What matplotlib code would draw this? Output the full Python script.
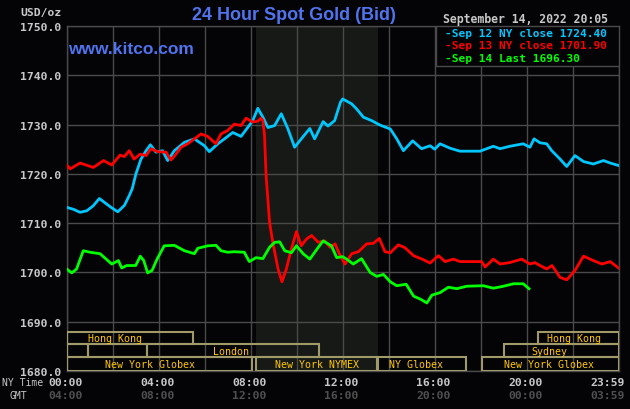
import matplotlib.pyplot as plt
from matplotlib.patches import Rectangle
import matplotlib.transforms as mtransforms

# ---- data (hours since 00:00 NY time, USD/oz) ----
sep12_hours = [0, 0.3, 0.58, 0.87, 1.15, 1.42, 1.7, 1.93, 2.22, 2.51, 2.72, 2.85, 3.01, 3.23,
               3.45, 3.64, 3.88, 4.17, 4.39, 4.68, 5.12, 5.55, 5.99, 6.2, 6.57, 6.86, 7.22,
               7.58, 7.87, 8.09, 8.31, 8.53, 8.75, 9.04, 9.33, 9.62, 9.91, 10.2, 10.57, 10.78,
               11.15, 11.36, 11.65, 11.9, 12.0, 12.39, 12.6, 12.9, 13.26, 13.62, 14.07, 14.35,
               14.64, 15.04, 15.43, 15.8, 16.0, 16.23, 16.67, 17.1, 17.97, 18.55, 18.84, 19.27,
               19.85, 20.14, 20.32, 20.58, 20.87, 21.09, 21.45, 21.74, 22.1, 22.47, 22.9, 23.34,
               23.63, 23.99]
sep12_price = [1713.2, 1712.8, 1712.2, 1712.5, 1713.5, 1715.0, 1714.0, 1713.2, 1712.3, 1713.6,
               1715.6, 1717.0, 1720.0, 1723.0, 1724.7, 1725.9, 1724.4, 1724.7, 1722.7, 1724.7,
               1726.4, 1727.1, 1725.7, 1724.5, 1726.1, 1727.1, 1728.4, 1727.6, 1729.4, 1730.8,
               1733.3, 1731.5, 1729.4, 1729.8, 1732.2, 1729.1, 1725.4, 1727.1, 1729.2, 1727.1,
               1730.6, 1729.7, 1730.8, 1734.5, 1735.2, 1734.2, 1733.2, 1731.5, 1730.8, 1729.9,
               1729.1, 1727.1, 1724.7, 1726.7, 1725.1, 1725.7, 1725.0, 1726.1, 1725.2, 1724.6,
               1724.6, 1725.6, 1725.1, 1725.6, 1726.1, 1725.4, 1727.1, 1726.3, 1726.1, 1724.7,
               1723.0, 1721.5, 1723.7, 1722.5, 1722.0, 1722.7, 1722.2, 1721.7]

sep13_hours = [0, 0.15, 0.58, 1.16, 1.6, 1.96, 2.32, 2.51, 2.72, 2.93, 3.2, 3.45, 3.66, 3.95,
               4.32, 4.53, 4.75, 4.97, 5.26, 5.55, 5.84, 6.13, 6.49, 6.71, 7.0, 7.29, 7.58, 7.8,
               8.09, 8.31, 8.45, 8.53, 8.6, 8.67, 8.82, 8.96, 9.19, 9.36, 9.55, 9.77, 9.99,
               10.2, 10.43, 10.65, 10.94, 11.22, 11.45, 11.67, 11.85, 12.1, 12.39, 12.68, 13.04,
               13.33, 13.59, 13.84, 14.07, 14.42, 14.71, 15.08, 15.5, 15.8, 16.16, 16.45, 16.81,
               17.1, 18.04, 18.19, 18.55, 18.84, 19.27, 19.78, 20.14, 20.35, 20.58, 20.87, 21.1,
               21.45, 21.74, 22.1, 22.47, 22.9, 23.27, 23.63, 23.99]
sep13_price = [1721.8, 1721.0, 1722.2, 1721.3, 1722.7, 1721.8, 1723.8, 1723.5, 1724.7, 1723.0,
               1724.0, 1723.7, 1725.1, 1724.5, 1724.4, 1722.8, 1724.0, 1725.4, 1726.1, 1727.1,
               1728.1, 1727.6, 1726.1, 1728.1, 1728.8, 1730.1, 1729.8, 1731.3, 1730.5, 1730.7,
               1731.3, 1730.8, 1727.8, 1719.6, 1710.2, 1706.1, 1700.7, 1698.1, 1700.7, 1704.8,
               1708.3, 1705.4, 1706.8, 1707.5, 1706.1, 1706.4, 1705.1, 1705.8, 1703.8, 1701.7,
               1703.8, 1704.2, 1705.8, 1705.9, 1706.9, 1704.2, 1704.0, 1705.6, 1705.0, 1703.4,
               1702.6, 1701.9, 1703.4, 1702.2, 1702.7, 1702.2, 1702.2, 1701.1, 1702.7, 1701.7,
               1702.0, 1702.7, 1701.7, 1702.0, 1701.4, 1700.7, 1701.4, 1699.0, 1698.5, 1700.4,
               1703.3, 1702.4, 1701.7, 1702.2, 1700.9]

sep14_hours = [0, 0.22, 0.43, 0.72, 1.01, 1.45, 1.96, 2.25, 2.39, 2.61, 3.0, 3.2, 3.35, 3.52,
               3.71, 3.93, 4.24, 4.68, 5.12, 5.55, 5.7, 6.13, 6.49, 6.71, 7.0, 7.29, 7.72, 7.94,
               8.23, 8.53, 8.82, 9.04, 9.26, 9.48, 9.77, 9.99, 10.28, 10.57, 10.94, 11.15, 11.51,
               11.74, 12.0, 12.17, 12.46, 12.82, 13.19, 13.48, 13.77, 14.07, 14.35, 14.76, 15.08,
               15.37, 15.66, 15.88, 16.23, 16.6, 16.96, 17.39, 18.12, 18.55, 18.99, 19.42, 19.85,
               20.1]
sep14_price = [1700.7, 1699.9, 1700.7, 1704.4, 1704.1, 1703.8, 1701.7, 1702.4, 1700.9, 1701.4,
               1701.4, 1703.3, 1702.4, 1699.9, 1700.4, 1702.7, 1705.4, 1705.5, 1704.4, 1703.8,
               1704.9, 1705.4, 1705.5, 1704.4, 1704.1, 1704.2, 1704.1, 1702.2, 1703.0, 1702.8,
               1705.1, 1706.1, 1706.2, 1704.4, 1704.0, 1705.4, 1703.8, 1702.7, 1705.1, 1706.4,
               1705.4, 1703.0, 1703.2, 1702.7, 1701.7, 1702.8, 1700.0, 1699.2, 1699.6, 1698.1,
               1697.3, 1697.6, 1695.2, 1694.6, 1693.8, 1695.4, 1695.9, 1697.0, 1696.7, 1697.2,
               1697.3, 1696.8, 1697.2, 1697.7, 1697.7, 1696.7]

legend_labels = ["Sep 12 NY close 1724.40", "Sep 13 NY close 1701.90", "Sep 14 Last 1696.30"]
ny_ticks = ["00:00", "04:00", "08:00", "12:00", "16:00", "20:00"]
gmt_ticks = ["04:00", "08:00", "12:00", "16:00", "20:00", "00:00"]

# market sessions: (start hour, end hour, row)  row 0 = top
sessions = [(0, 5.48, 0), (20.5, 24, 0),
            (0, 0.94, 1), (0.94, 3.5, 1), (3.5, 10.95, 1), (19.0, 24, 1),
            (0, 8.07, 2), (8.24, 13.48, 2), (13.52, 17.35, 2), (18.05, 24, 2)]
session_labels = [("Hong Kong", 2.1, 0), ("London", 7.14, 1), ("New York Globex", 3.62, 2),
                  ("New York NYMEX", 10.9, 2), ("NY Globex", 15.19, 2),
                  ("New York Globex", 20.97, 2), ("Hong Kong", 22.06, 0), ("Sydney", 20.97, 1)]

BG = '#040306'
GRID = '#4a4a4a'
CYAN = '#00c8ff'
RED = '#ff0000'
GREEN = '#00ff00'
BLUE = '#5073ee'
LGREY = '#c8c8c8'
DGREY = '#505050'
MONO = 'DejaVu Sans Mono'

fig = plt.figure(figsize=(6.3, 4.1), dpi=100, facecolor=BG)
ax = fig.add_axes([66.7 / 630, 1 - 372 / 410, 552 / 630, 345 / 410])
ax.set_facecolor(BG)
ax.set_xlim(0, 24)
ax.set_ylim(1680, 1750)

# NYMEX shaded session
ax.axvspan(8.24, 13.52, color='#161916', zorder=0, lw=0)

for h in range(0, 25, 2):
    ax.axvline(h, color=GRID, lw=1, zorder=1)
for v in range(1680, 1751, 10):
    ax.axhline(v, color=GRID, lw=1, zorder=1)
for s in ax.spines.values():
    s.set_color(GRID)
    s.set_linewidth(1)

ax.plot(sep12_hours, sep12_price, color=CYAN, lw=2, zorder=3)
ax.plot(sep13_hours, sep13_price, color=RED, lw=2, zorder=4)
ax.plot(sep14_hours, sep14_price, color=GREEN, lw=2, zorder=5)

# session boxes at the bottom
row_bounds = [(1685.5, 1687.9), (1682.9, 1685.4), (1680.0, 1682.8)]
for h0, h1, row in sessions:
    y0, y1 = row_bounds[row]
    ax.add_patch(Rectangle((h0, y0), h1 - h0, y1 - y0, fill=False,
                           edgecolor='#a09a68', lw=1.5, zorder=6))
for name, hx, row in session_labels:
    y0, y1 = row_bounds[row]
    ax.text(hx, (y0 + y1) / 2, name, color='#ffc800', fontsize=7.2, family=MONO,
            ha='center', va='center', zorder=7)

# y ticks
ax.set_xticks([])
ax.set_yticks(range(1680, 1751, 10))
ax.set_yticklabels([f"{v:.1f}" for v in range(1680, 1751, 10)], color=LGREY,
                   fontsize=8.2, family=MONO, fontweight='bold')
ax.tick_params(axis='y', length=0, pad=4)

# x labels (NY time and GMT)
trans = mtransforms.blended_transform_factory(ax.transData, fig.transFigure)
for i, (ny, gmt) in enumerate(zip(ny_ticks, gmt_ticks)):
    ax.text(i * 4 - 0.07, 1 - 383 / 410, ny, transform=trans, color=LGREY, fontsize=8.2,
            family=MONO, fontweight='bold', ha='center', va='center')
    ax.text(i * 4 - 0.07, 1 - 396 / 410, gmt, transform=trans, color=DGREY, fontsize=8.2,
            family=MONO, fontweight='bold', ha='center', va='center')
fig.text(625 / 630, 1 - 383 / 410, "23:59", color=LGREY, fontsize=8.2, family=MONO,
         fontweight='bold', ha='right', va='center')
fig.text(625 / 630, 1 - 396 / 410, "03:59", color=DGREY, fontsize=8.2, family=MONO,
         fontweight='bold', ha='right', va='center')
fig.text(2 / 630, 1 - 383 / 410, "NY Time", color=LGREY, fontsize=7, family=MONO,
         ha='left', va='center')
fig.text(10 / 630, 1 - 396 / 410, "GMT", color=LGREY, fontsize=7, family=MONO,
         ha='left', va='center')
fig.text(20 / 630, 1 - 13 / 410, "USD/oz", color=LGREY, fontsize=8.2, family=MONO,
         fontweight='bold', ha='left', va='center')

# titles
fig.text(294 / 630, 1 - 15 / 410, "24 Hour Spot Gold (Bid)", color=BLUE, fontsize=13,
         family='Liberation Sans', fontweight='bold', ha='center', va='center')
fig.text(68 / 630, 1 - 49 / 410, "www.kitco.com", color=BLUE, fontsize=12.5,
         family='Liberation Sans', fontweight='bold', ha='left', va='center')
fig.text(608 / 630, 1 - 20 / 410, "September 14, 2022 20:05", color=LGREY, fontsize=8.3,
         family=MONO, fontweight='bold', ha='right', va='center')

# legend box
ax.add_patch(Rectangle((0.6685, 0.885), 0.3315, 0.115, transform=ax.transAxes,
                       facecolor=BG, edgecolor=GRID, lw=1, zorder=8))
leg_y = [34.0, 46.3, 59.3]
for lab, col, yy in zip(legend_labels, [CYAN, RED, GREEN], leg_y):
    fig.text(444.7 / 630, 1 - yy / 410, "-" + lab, color=col, fontsize=8.0, family=MONO,
             fontweight='bold', ha='left', va='center', zorder=9)

fig.savefig('out.png', dpi=100, facecolor=BG)
